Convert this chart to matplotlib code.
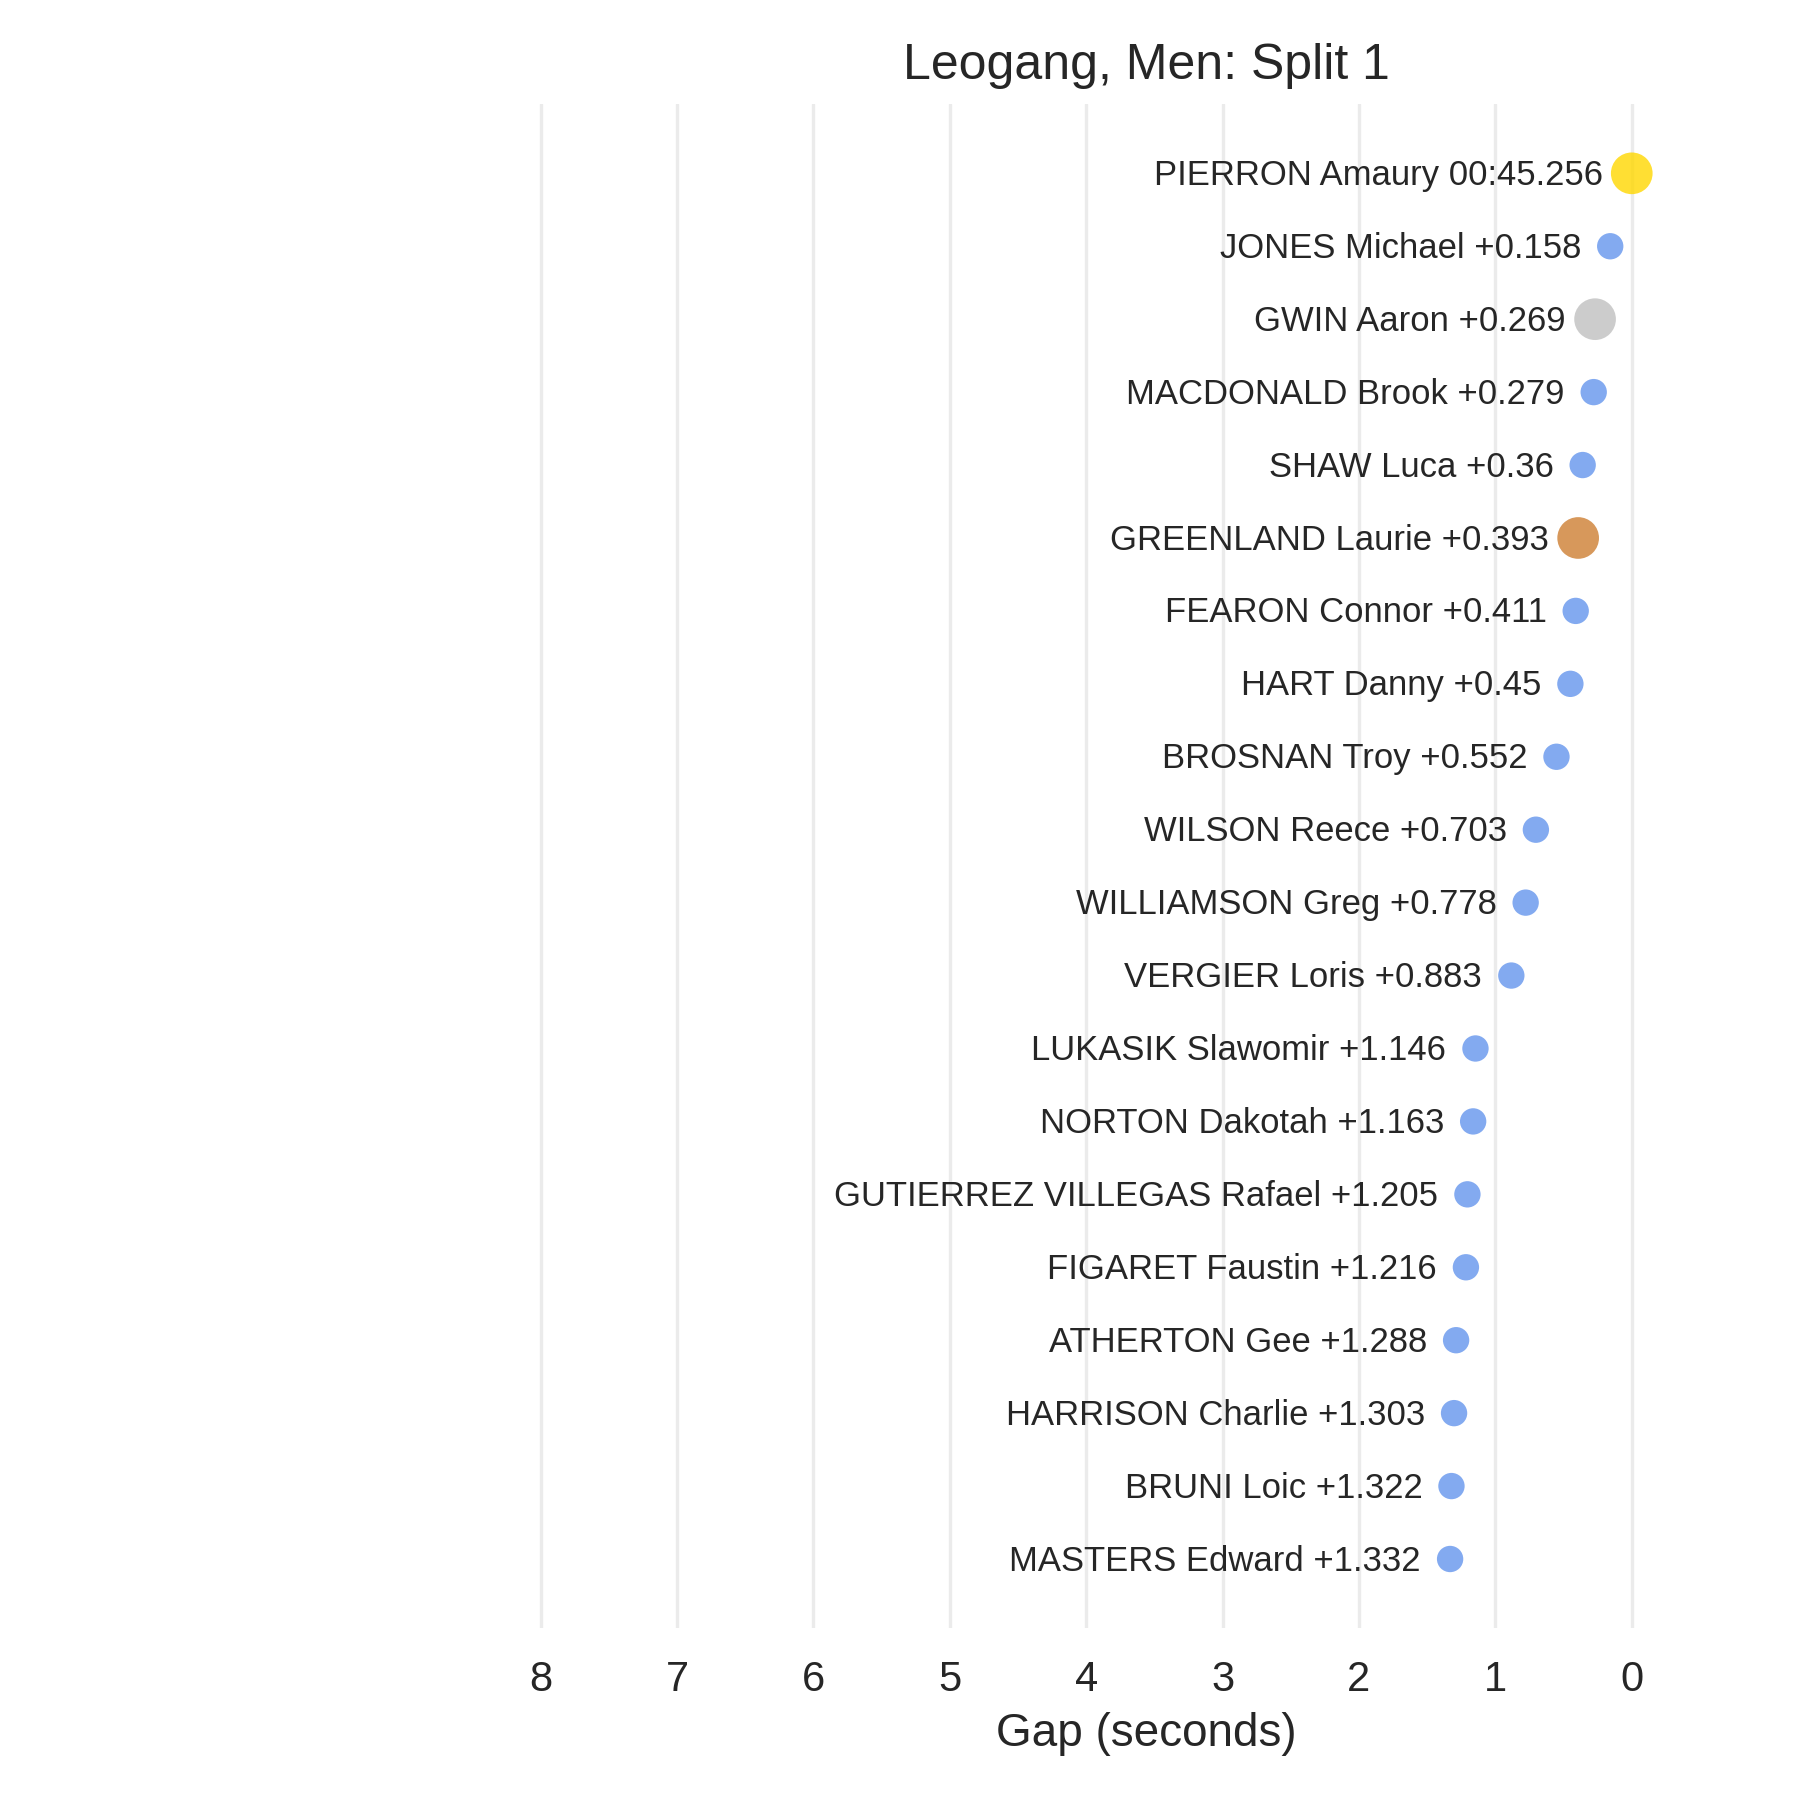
import matplotlib
matplotlib.use("Agg")
import matplotlib.pyplot as plt
import seaborn as sns

# Split 1 gaps to the leader (seconds)
riders = [
    "PIERRON Amaury", "JONES Michael", "GWIN Aaron", "MACDONALD Brook",
    "SHAW Luca", "GREENLAND Laurie", "FEARON Connor", "HART Danny",
    "BROSNAN Troy", "WILSON Reece", "WILLIAMSON Greg", "VERGIER Loris",
    "LUKASIK Slawomir", "NORTON Dakotah", "GUTIERREZ VILLEGAS Rafael",
    "FIGARET Faustin", "ATHERTON Gee", "HARRISON Charlie", "BRUNI Loic",
    "MASTERS Edward",
]
gaps = [0.0, 0.158, 0.269, 0.279, 0.36, 0.393, 0.411, 0.45, 0.552, 0.703,
        0.778, 0.883, 1.146, 1.163, 1.205, 1.216, 1.288, 1.303, 1.322, 1.332]
leader_time = "00:45.256"
# podium colours for the fastest three of the final ranking
highlight = {"PIERRON Amaury": "gold", "GWIN Aaron": "silver",
             "GREENLAND Laurie": "#CD7F32"}

sns.set_style("whitegrid")
plt.rcParams["font.family"] = ["Liberation Sans", "DejaVu Sans"]
plt.rcParams["text.color"] = "#262626"
plt.rcParams["axes.labelcolor"] = "#262626"
plt.rcParams["xtick.color"] = "#262626"

fig = plt.figure(figsize=(6, 6), dpi=300)
ax = fig.add_axes([0.2913, 0.0954, 0.691, 0.8468])

ypos = list(range(len(riders)))
colors = [highlight.get(r, "cornflowerblue") for r in riders]
sizes = [100 if r in highlight else 40 for r in riders]
ax.scatter(gaps, ypos, c=colors, s=sizes, alpha=0.8, linewidths=0, zorder=3)

for i, (r, g) in enumerate(zip(riders, gaps)):
    label = f"{r} {leader_time}" if i == 0 else f"{r} +{g:g}"
    ax.annotate(label, (g, i), xytext=(-7, -0.5), textcoords="offset points",
                ha="right", va="center", fontsize=8.3)

ax.set_xlim(8.12, -1.0)
ax.set_ylim(len(riders) - 0.05, -0.95)
ax.set_xticks(range(0, 9))
ax.set_yticks([])
ax.grid(axis="x", color="#EBEBEB", linewidth=0.8)
ax.grid(axis="y", visible=False)
for s in ax.spines.values():
    s.set_visible(False)
ax.tick_params(axis="x", length=0, pad=7.6, labelsize=10)
ax.set_xlabel("Gap (seconds)", fontsize=11, labelpad=3)
ax.set_title("Leogang, Men: Split 1", fontsize=12)

fig.savefig("out.png", dpi=300)
